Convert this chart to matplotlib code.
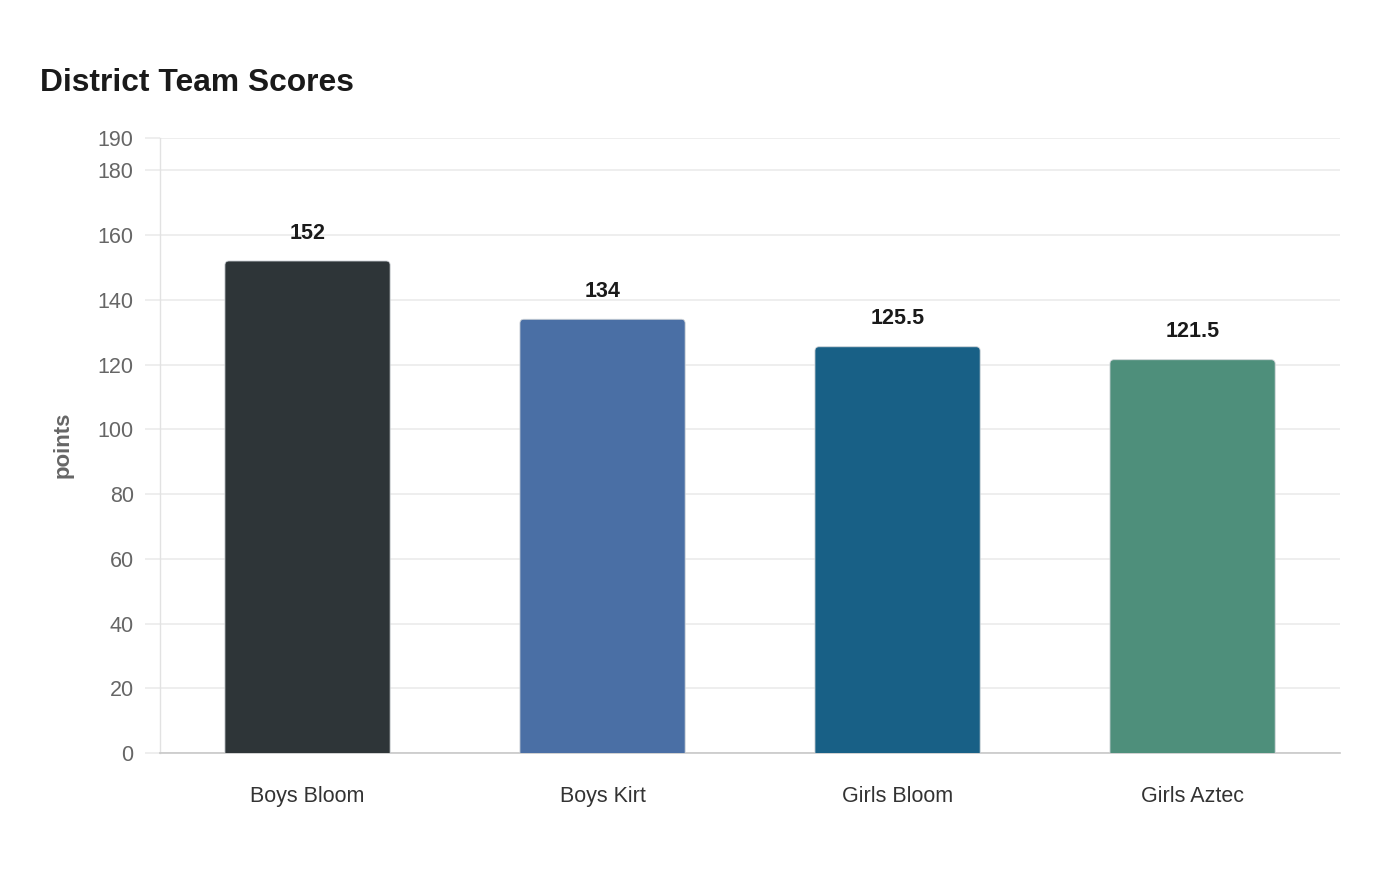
# -*- coding: utf-8 -*-
"""
Bar chart of district team scores.
"""
import matplotlib.pyplot as plt
from matplotlib.patches import FancyBboxPatch

plt.rcParams['font.family'] = ['Liberation Sans', 'DejaVu Sans']

# data
teams = ["Boys Bloom", "Boys Kirt", "Girls Bloom", "Girls Aztec"]
scores = [152, 134, 125.5, 121.5]
score_labels = ["152", "134", "125.5", "121.5"]
bar_colors = ["#2e3538", "#4a6fa5", "#186086", "#4e8f7b"]
yticks = [0, 20, 40, 60, 80, 100, 120, 140, 160, 180, 190]

fig = plt.figure(figsize=(14, 8.8), dpi=100)
ax = fig.add_axes([0.1143, 0.1443, 0.8429, 0.6989])

bar_w = 0.56
# rounded top corners: ~4 px radius, aspect fixes the x/y scale difference
px_x = 4.0 / 295.0
aspect = (190.0 / 615.0) / (1.0 / 295.0)
for i, (v, c) in enumerate(zip(scores, bar_colors)):
    box = FancyBboxPatch((i - bar_w / 2, -10), bar_w, v + 10,
                         boxstyle="round,pad=0,rounding_size=%f" % px_x,
                         mutation_aspect=aspect,
                         facecolor=c, edgecolor="#d0d4d8", linewidth=0.6,
                         zorder=3)
    box.set_clip_on(True)
    ax.add_patch(box)
    ax.annotate(score_labels[i], (i, v), xytext=(0, 20),
                textcoords="offset points", ha="center", va="center",
                fontsize=15.5, fontweight="bold", color="#1a1a1a")

ax.set_xlim(-0.5, 3.5)
ax.set_ylim(0, 190)
ax.set_xticks(range(len(teams)))
ax.set_xticklabels(teams)
ax.set_yticks(yticks)

ax.grid(axis="y", color="#ebebeb", linewidth=1.2, zorder=0)
ax.tick_params(axis="y", length=11, width=1.2, color="#ebebeb",
               labelsize=15.5, labelcolor="#666666", pad=8)
ax.tick_params(axis="x", length=0, labelsize=15.5, labelcolor="#333333",
               pad=23.5)

for s in ["top", "right"]:
    ax.spines[s].set_visible(False)
ax.spines["left"].set_color("#e2e2e2")
ax.spines["left"].set_linewidth(1)
ax.spines["bottom"].set_color("#c8c8c8")
ax.spines["bottom"].set_linewidth(1.2)

fig.text(0.0286, 0.9056, "District Team Scores", fontsize=22.9,
         fontweight="bold", color="#1a1a1a", ha="left", va="center")
fig.text(0.045, 0.494, "points", rotation=90, fontsize=16,
         fontweight="bold", color="#666666", ha="center", va="center")

plt.savefig("out.png", dpi=100, facecolor="white")
